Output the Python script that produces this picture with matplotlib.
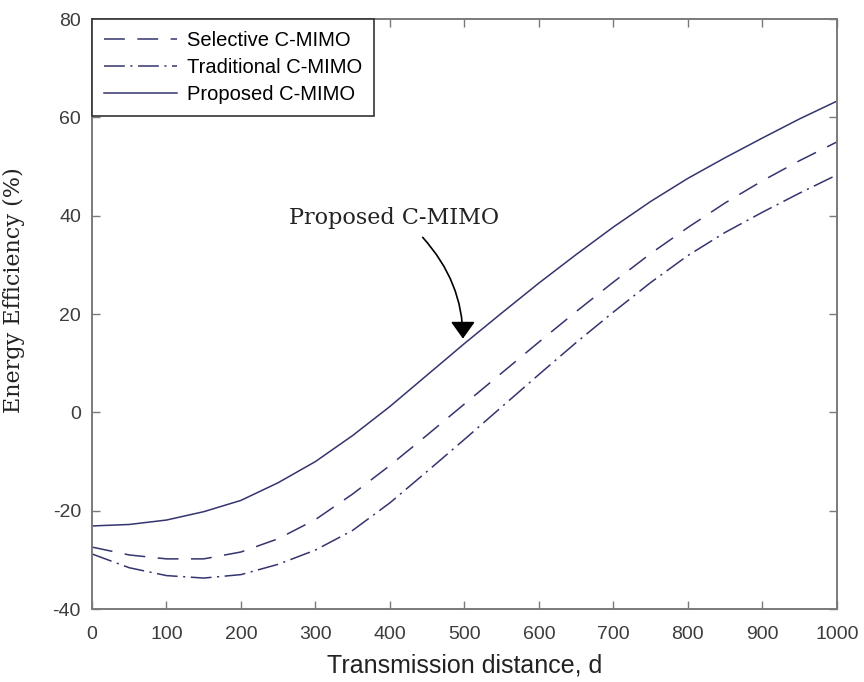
import matplotlib
matplotlib.use("Agg")
import matplotlib.pyplot as plt

# distance samples and curves
distance = [0, 50, 100, 150, 200, 250, 300, 350, 400, 450, 500,
            550, 600, 650, 700, 750, 800, 850, 900, 950, 1000]
proposed = [-23.1, -22.8, -21.9, -20.2, -17.9, -14.3, -10.0, -4.7, 1.2, 7.6, 14.0,
            20.2, 26.3, 32.1, 37.7, 42.9, 47.6, 51.8, 55.8, 59.7, 63.3]
selective = [-27.4, -29.0, -29.8, -29.8, -28.4, -25.7, -21.8, -16.6, -10.8, -4.6, 1.7,
             8.0, 14.3, 20.5, 26.5, 32.3, 37.6, 42.6, 47.1, 51.2, 55.0]
traditional = [-28.8, -31.6, -33.2, -33.7, -33.0, -30.9, -28.0, -24.0, -18.4, -12.0, -5.5,
               1.1, 7.7, 14.2, 20.4, 26.4, 31.9, 36.6, 40.7, 44.6, 48.3]

x_ticks = [0, 100, 200, 300, 400, 500, 600, 700, 800, 900, 1000]
y_ticks = [-40, -20, 0, 20, 40, 60, 80]

line_color = '#34346e'
axis_gray = '#7a7a7a'
label_gray = '#3c3c3c'

plt.rcParams['lines.scale_dashes'] = False
plt.rcParams['axes.unicode_minus'] = False

fig = plt.figure(figsize=(8.64, 6.82), dpi=100)
ax = fig.add_axes([0.1065, 0.107, 0.862, 0.865])

ax.plot(distance, selective, color=line_color, linewidth=1.1,
        linestyle=(0, (15, 9)), label='Selective C-MIMO')
ax.plot(distance, traditional, color=line_color, linewidth=1.1,
        linestyle=(0, (15, 4, 1.5, 4)), label='Traditional C-MIMO')
ax.plot(distance, proposed, color=line_color, linewidth=1.1,
        linestyle='-', label='Proposed C-MIMO')

ax.set_xlim(0, 1000)
ax.set_ylim(-40, 80)
ax.set_xticks(x_ticks)
ax.set_yticks(y_ticks)

for spine in ax.spines.values():
    spine.set_color(axis_gray)
    spine.set_linewidth(1.4)

ax.tick_params(axis='both', direction='in', length=6, width=1.0,
               colors=axis_gray, labelcolor=label_gray, labelsize=14,
               top=True, right=True)
ax.tick_params(axis='x', pad=12)
ax.tick_params(axis='y', pad=8)
for lbl in ax.get_xticklabels() + ax.get_yticklabels():
    lbl.set_family('Liberation Sans')

ax.set_xlabel('Transmission distance, d', fontsize=18, color='#222222',
              family='Liberation Sans', labelpad=8)
ax.set_ylabel('Energy Efficiency (%)', fontsize=16, color='#222222',
              family='DejaVu Serif')
ax.yaxis.set_label_coords(-0.09, 0.54)

leg = ax.legend(loc='upper left', borderaxespad=0, fancybox=False,
                framealpha=1, edgecolor='#333333', handlelength=3.6,
                prop={'family': 'Liberation Sans', 'size': 14.5},
                borderpad=0.6, labelspacing=0.4, handletextpad=0.5)
leg.get_frame().set_linewidth(1.2)

# annotation pointing at the proposed curve
ax.text(405, 39.5, 'Proposed C-MIMO', fontsize=16, family='DejaVu Serif',
        ha='center', va='center', color='#222222')
ax.annotate('', xy=(498, 15.0), xytext=(444, 35.6),
            arrowprops=dict(arrowstyle='-|>,head_width=0.5,head_length=0.7',
                            connectionstyle='angle3,angleA=-48,angleB=90',
                            color='black', lw=1.2, mutation_scale=15,
                            shrinkA=0, shrinkB=0))

fig.savefig('out.png', dpi=100, facecolor='white')
